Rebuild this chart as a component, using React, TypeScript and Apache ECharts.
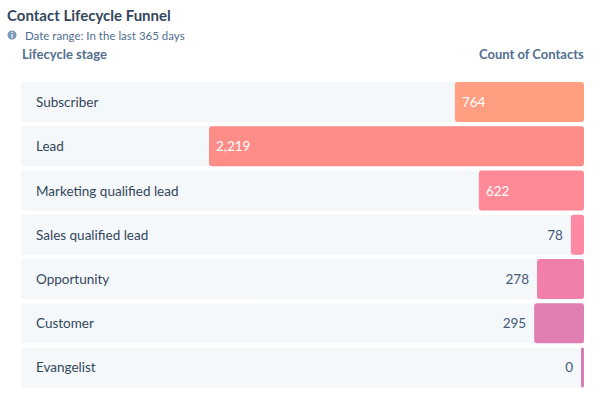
import React, { useEffect, useRef } from "react";
import * as echarts from "echarts";

const stages = [
  "Subscriber",
  "Lead",
  "Marketing qualified lead",
  "Sales qualified lead",
  "Opportunity",
  "Customer",
  "Evangelist",
];
const counts = [764, 2219, 622, 78, 278, 295, 0];
const barColors = ["#ff9e81", "#ff8d87", "#ff8996", "#fd89a3", "#f080a9", "#e07fb2", "#d67fb8"];
const insideLabel = [true, true, true, false, false, false, false];

const FONT = "Lato, 'Open Sans', sans-serif";

export default function App() {
  const ref = useRef<HTMLDivElement>(null);
  useEffect(() => {
    if (!ref.current) return;
    const chart = echarts.init(ref.current, undefined, { renderer: "svg" });
    const maxVal = Math.max(...counts);
    // Bars span 375px of 563px row width at max
    const axisMax = (maxVal * 563) / 375;
    chart.setOption({
      animation: false,
      textStyle: { fontFamily: FONT },
      grid: { left: 21, right: 16, top: 80, height: 309.5, containLabel: false },
      xAxis: {
        type: "value",
        inverse: true,
        min: 0,
        max: axisMax,
        show: false,
      },
      yAxis: {
        type: "category",
        inverse: true,
        data: stages,
        position: "left",
        axisLine: { show: false },
        axisTick: { show: false },
        splitLine: { show: false },
        axisLabel: {
          inside: true,
          margin: 15,
          color: "#33475b",
          fontSize: 13.5,
          fontFamily: FONT,
          align: "left",
        },
        z: 10,
      },
      series: [
        {
          type: "bar",
          barWidth: 40,
          barMinHeight: 3,
          showBackground: true,
          backgroundStyle: { color: "#f5f8fa", borderRadius: 1 },
          // a zero count still gets the minimum-width sliver, drawn leftwards like the others
          data: counts.map((v, i) => ({
            value: v === 0 ? 1e-9 : v,
            itemStyle: { color: barColors[i], borderRadius: 3 },
            label: insideLabel[i]
              ? { show: true, position: "insideLeft", distance: 7, color: "#ffffff" }
              : { show: true, position: "left", distance: 8, color: "#425b76" },
          })),
          label: {
            show: true,
            fontSize: 13.5,
            fontFamily: FONT,
            formatter: (p: any) => counts[p.dataIndex].toLocaleString("en-US"),
          },
        },
      ],
      graphic: [
        {
          type: "text",
          left: 7,
          top: 7,
          style: {
            text: "Contact Lifecycle Funnel",
            fontSize: 15,
            fontWeight: "bold",
            fill: "#33475b",
            fontFamily: FONT,
          },
        },
        {
          type: "circle",
          shape: { cx: 12, cy: 35, r: 4.5 },
          style: { fill: "#7c98b6" },
        },
        {
          type: "text",
          x: 12,
          y: 35,
          style: {
            text: "i",
            fontSize: 8,
            fontWeight: "bold",
            fill: "#ffffff",
            align: "center",
            verticalAlign: "middle",
            fontFamily: FONT,
          },
        },
        {
          type: "text",
          left: 25,
          top: 29,
          style: {
            text: "Date range: In the last 365 days",
            fontSize: 11.5,
            fill: "#516f90",
            fontFamily: FONT,
          },
        },
        {
          type: "text",
          left: 22,
          top: 47,
          style: {
            text: "Lifecycle stage",
            fontSize: 13,
            fontWeight: "bold",
            fill: "#516f90",
            fontFamily: FONT,
          },
        },
        {
          type: "text",
          right: 16,
          top: 47,
          style: {
            text: "Count of Contacts",
            fontSize: 13,
            fontWeight: "bold",
            fill: "#516f90",
            fontFamily: FONT,
          },
        },
      ],
    });
    return () => chart.dispose();
  }, []);
  return <div ref={ref} style={{ width: 600, height: 397, position: "absolute", left: 0, top: 0 }} />;
}
